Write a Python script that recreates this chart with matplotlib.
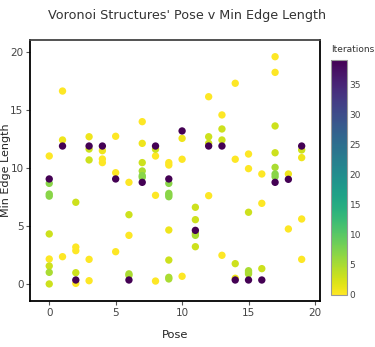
import matplotlib
matplotlib.use("Agg")
import matplotlib.pyplot as plt
import numpy as np

# (pose, min edge length, iterations), grouped by pose
pose = [
    0, 0, 0, 0, 0, 0, 0, 0, 0, 0,
    1, 1, 1, 1,
    2, 2, 2, 2, 2, 2,
    3, 3, 3, 3, 3, 3,
    4, 4, 4, 4,
    5, 5, 5, 5,
    6, 6, 6, 6, 6, 6,
    7, 7, 7, 7, 7, 7, 7,
    8, 8, 8, 8, 8,
    9, 9, 9, 9, 9, 9, 9, 9, 9, 9, 9,
    10, 10, 10, 10,
    11, 11, 11, 11, 11, 11,
    12, 12, 12, 12, 12,
    13, 13, 13, 13, 13,
    14, 14, 14, 14, 14,
    15, 15, 15, 15, 15, 15, 15,
    16, 16, 16, 16,
    17, 17, 17, 17, 17, 17, 17, 17,
    18, 18, 18,
    19, 19, 19, 19, 19,
]
min_edge = [
    11.06, 9.08, 8.7, 7.78, 7.6, 4.34, 2.18, 1.58, 1.03, 0.03,
    16.66, 12.44, 11.92, 2.38,
    7.07, 3.21, 2.9, 1.0, 0.37, 0.08,
    12.72, 11.92, 11.66, 10.72, 2.15, 0.31,
    11.92, 11.52, 10.8, 10.49,
    12.76, 9.62, 9.08, 2.81,
    8.79, 6.0, 4.22, 0.9, 0.77, 0.37,
    14.02, 12.15, 10.49, 9.77, 9.37, 9.22, 8.79,
    11.92, 11.64, 11.06, 7.67, 0.28,
    10.49, 10.28, 9.08, 8.7, 7.84, 7.7, 7.55, 4.68, 2.09, 0.6, 0.46,
    13.22, 12.58, 10.78, 0.69,
    6.64, 5.57, 4.65, 4.39, 4.22, 3.24,
    16.17, 12.72, 12.15, 11.92, 7.64,
    14.6, 13.39, 12.44, 11.92, 2.5,
    17.33, 10.78, 1.78, 0.52, 0.37,
    11.23, 9.97, 6.21, 1.17, 1.03, 0.89, 0.37,
    9.51, 6.98, 1.35, 0.37,
    19.62, 18.27, 13.65, 11.34, 10.08, 9.51, 9.28, 8.79,
    9.51, 9.05, 4.77,
    11.92, 11.58, 10.92, 5.63, 2.15,
]
iterations = [
    0, 39, 7, 7, 7, 3, 0, 3, 5, 3,
    0, 1, 39, 0,
    3, 0, 0, 3, 39, 0,
    1, 39, 3, 3, 0, 0,
    39, 1, 0, 0,
    0, 0, 39, 0,
    0, 3, 0, 5, 5, 39,
    0, 1, 3, 5, 7, 7, 39,
    39, 3, 0, 0, 0,
    0, 0, 39, 7, 7, 7, 7, 1, 3, 5, 5,
    39, 1, 0, 0,
    3, 3, 39, 5, 5, 3,
    0, 3, 3, 39, 0,
    0, 3, 3, 39, 0,
    0, 0, 3, 1, 39,
    0, 0, 3, 5, 5, 5, 39,
    0, 0, 3, 39,
    0, 0, 3, 3, 5, 7, 7, 39,
    1, 39, 0,
    39, 3, 1, 0, 0,
]

x = np.array(pose)
y = np.array(min_edge)
c = np.array(iterations)
order = np.argsort(c, kind="stable")

fig = plt.figure(figsize=(3.75, 3.47), dpi=100)
ax = fig.add_axes([30.5 / 375, 46 / 347, 289.5 / 375, 261 / 347])

sc = ax.scatter(x[order], y[order], c=c[order], cmap="viridis_r", vmin=0, vmax=39,
                s=28, linewidths=0, zorder=3)

ax.set_xlim(-1.41, 20.38)
ax.set_ylim(-1.44, 21.06)
ax.set_xticks([0, 5, 10, 15, 20])
ax.set_yticks([0, 5, 10, 15, 20])
ax.tick_params(direction="out", length=3, width=0.8, color="#555555",
               labelsize=7.5, labelcolor="#444444", pad=2)
for side in ["left", "right", "bottom"]:
    ax.spines[side].set_color("black")
    ax.spines[side].set_linewidth(1.3)
ax.spines["top"].set_color("#444444")
ax.spines["top"].set_linewidth(1.3)

fig.text(0.5, 1 - 16 / 347, "Voronoi Structures' Pose v Min Edge Length",
         ha="center", va="center", fontsize=9.2, color="#333333")
fig.text(175 / 375, 1 - 335 / 347, "Pose", ha="center", va="center",
         fontsize=8.2, color="#222222")
fig.text(1 / 375, 1 - 170 / 347, "Min Edge Length", ha="left", va="center",
         rotation=90, fontsize=8, color="#222222")

cax = fig.add_axes([331 / 375, 52 / 347, 16 / 375, 235 / 347])
cb = fig.colorbar(sc, cax=cax)
cb.set_ticks([0, 5, 10, 15, 20, 25, 30, 35])
cb.ax.tick_params(length=0, labelsize=6.5, labelcolor="#444444", pad=2)
cb.outline.set_edgecolor("#999999")
cb.outline.set_linewidth(0.8)
fig.text(331 / 375, 1 - 50 / 347, "Iterations", ha="left", va="center",
         fontsize=6.5, color="#333333")

fig.savefig("out.png", dpi=100)
